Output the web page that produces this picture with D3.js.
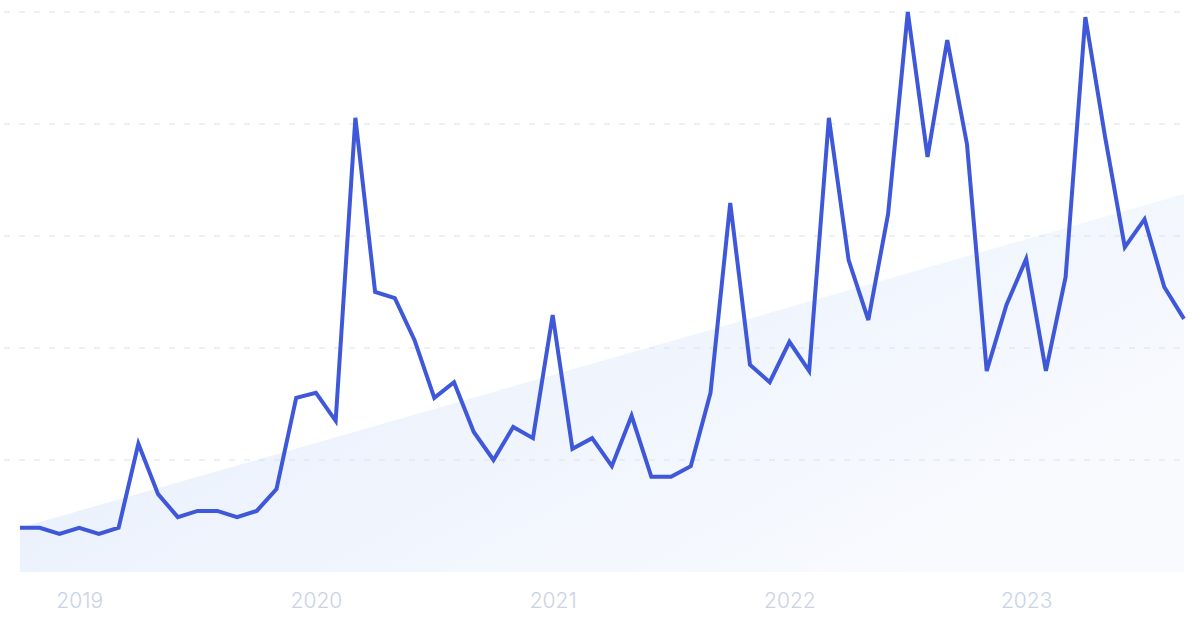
<!DOCTYPE html>
<html>
<head>
<meta charset="utf-8">
<script src="https://cdn.jsdelivr.net/npm/d3@7"></script>
<style>
  html, body { margin: 0; padding: 0; background: #ffffff; }
  svg { display: block; }
</style>
</head>
<body>
<svg id="chart" width="1200" height="621"></svg>
<script>
// Monthly series, Oct 2018 – Sep 2023 (relative interest, 0–100)
const monthIndex = d3.range(60); // 0 = Oct 2018
const values = [
  7.9, 7.9, 6.8, 7.9, 6.8, 7.9, 22.9, 13.9, 9.8, 10.9, 10.9, 9.8,
  10.9, 14.8, 31.1, 32.0, 27.0, 81.1, 50.0, 48.9, 41.4, 31.1, 33.9, 25.0,
  20.0, 25.9, 23.9, 45.9, 22.0, 23.9, 18.9, 27.9, 17.0, 17.0, 18.9, 32.0,
  65.9, 37.0, 33.9, 41.1, 35.9, 81.1, 55.7, 45.0, 63.9, 100, 74.1, 95.0,
  76.4, 35.9, 47.7, 55.9, 35.9, 52.7, 99.1, 77.7, 58.0, 63.0, 50.9, 45.2
];
// Linear trend (start, end)
const trend = [7.9, 67.5];
const yTicks = [20, 40, 60, 80, 100];
const yearLabels = ["2019", "2020", "2021", "2022", "2023"];
const yearTickIndex = [3, 15, 27, 39, 51]; // January of each year

const svg = d3.select("#chart");
const M = { left: 20, right: 1184, top: 12, bottom: 572 };

const x = d3.scaleLinear()
  .domain([0, monthIndex.length - 1])
  .range([M.left, M.right]);
const y = d3.scaleLinear().domain([0, 100]).range([M.bottom, M.top]);

// gradient for trend area
const defs = svg.append("defs");
const grad = defs.append("linearGradient")
  .attr("id", "trendGrad")
  .attr("x1", "0").attr("y1", "0").attr("x2", "1").attr("y2", "0.6");
grad.append("stop").attr("offset", "0%").attr("stop-color", "#e4ecfc");
grad.append("stop").attr("offset", "55%").attr("stop-color", "#eff4fd");
grad.append("stop").attr("offset", "100%").attr("stop-color", "#f8fafe");

// trend area
const trendData = [
  { i: 0, v: trend[0] },
  { i: monthIndex.length - 1, v: trend[1] }
];
svg.append("path")
  .datum(trendData)
  .attr("fill", "url(#trendGrad)")
  .attr("d", d3.area().x(d => x(d.i)).y0(y(0)).y1(d => y(d.v)));

// gridlines
svg.append("g")
  .selectAll("line")
  .data(yTicks)
  .join("line")
  .attr("x1", 4).attr("x2", M.right)
  .attr("y1", d => y(d)).attr("y2", d => y(d))
  .attr("stroke", "#d9e0f0")
  .attr("stroke-width", 1)
  .attr("stroke-dasharray", "6 9");

// x-axis labels
const xAxis = d3.axisBottom(x)
  .tickValues(yearTickIndex)
  .tickFormat((d, i) => yearLabels[i])
  .tickSize(0)
  .tickPadding(0);
const gx = svg.append("g").attr("transform", `translate(0,${M.bottom})`).call(xAxis);
gx.select(".domain").remove();
gx.selectAll("text")
  .attr("dy", 0)
  .attr("y", 36)
  .attr("fill", "#cad2e6")
  .style("font-family", "Inter, 'Open Sans', sans-serif")
  .style("font-weight", "300")
  .style("font-size", "21px");

// line
svg.append("path")
  .datum(values)
  .attr("fill", "none")
  .attr("stroke", "#3f58d9")
  .attr("stroke-width", 4)
  .attr("stroke-linejoin", "miter")
  .attr("stroke-linecap", "butt")
  .attr("d", d3.line().x((d, i) => x(monthIndex[i])).y(d => y(d)));
</script>
</body>
</html>
